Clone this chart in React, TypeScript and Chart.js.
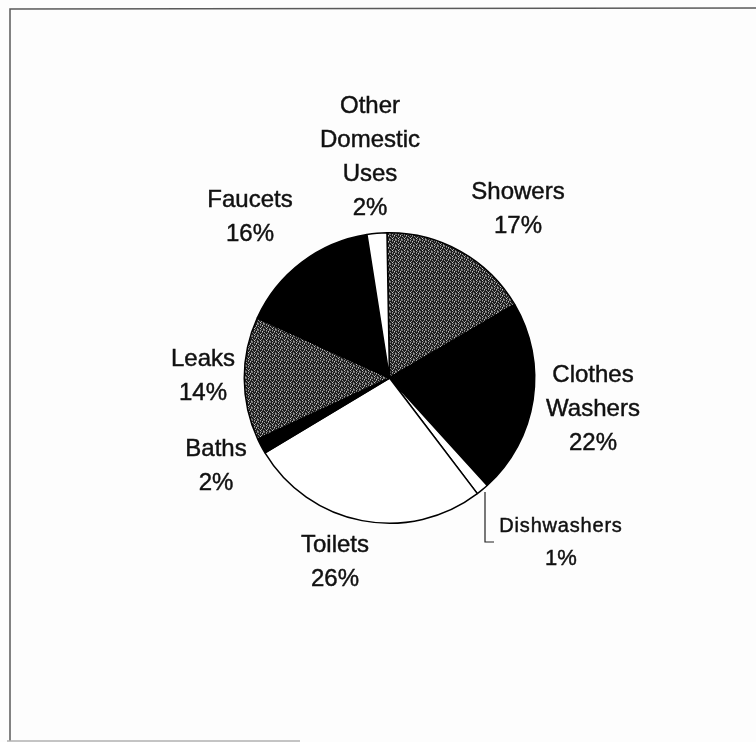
import React, { useEffect, useRef } from "react";
import { Chart, registerables } from "chart.js";

Chart.register(...registerables);

const categories = [
  "Showers",
  "Clothes Washers",
  "Dishwashers",
  "Toilets",
  "Baths",
  "Leaks",
  "Faucets",
  "Other Domestic Uses",
];
const values = [16.8, 21.7, 1.4, 26.7, 1.7, 13.7, 15.7, 2.2];
const percentLabels = ["17%", "22%", "1%", "26%", "2%", "14%", "16%", "2%"];
const labelLines = [
  ["Showers"],
  ["Clothes", "Washers"],
  ["Dishwashers"],
  ["Toilets"],
  ["Baths"],
  ["Leaks"],
  ["Faucets"],
  ["Other", "Domestic", "Uses"],
];
// fill kind per slice: "tex" = dark stippled grey, "black", "white"
const fills = ["tex", "black", "white", "white", "black", "tex", "black", "white"];
// label anchor (centre x, first baseline y) in pixels
const labelPos: [number, number][] = [
  [518, 199],
  [593, 382],
  [561, 532],
  [335, 552],
  [216, 456],
  [203, 366],
  [250, 207],
  [370, 113],
];

function makeTexture(): CanvasPattern | string {
  const c = document.createElement("canvas");
  c.width = 6;
  c.height = 6;
  const g = c.getContext("2d");
  if (!g) return "#444";
  g.fillStyle = "#1c1c1c";
  g.fillRect(0, 0, 6, 6);
  const map = [
    "a.b..a",
    "..a.c.",
    "b...a.",
    ".a.b..",
    "..c..a",
    "a..a.b",
  ];
  for (let y = 0; y < 6; y++) {
    for (let x = 0; x < 6; x++) {
      const ch = map[y][x];
      if (ch === "a") g.fillStyle = "#707070";
      else if (ch === "b") g.fillStyle = "#a0a0a0";
      else if (ch === "c") g.fillStyle = "#c8c8c8";
      else continue;
      g.fillRect(x, y, 1, 1);
    }
  }
  const ctx2 = document.createElement("canvas").getContext("2d");
  return ctx2?.createPattern(c, "repeat") || "#444";
}

export default function App() {
  const ref = useRef<HTMLCanvasElement>(null);
  useEffect(() => {
    if (!ref.current) return;
    const tex = makeTexture();
    const bg = fills.map((f) => (f === "tex" ? tex : f === "black" ? "#000000" : "#ffffff"));

    const decor = {
      id: "decor",
      beforeDraw(chart: any) {
        const ctx = chart.ctx;
        ctx.save();
        ctx.fillStyle = "#fdfdfd";
        ctx.fillRect(0, 0, chart.width, chart.height);
        // frame
        ctx.strokeStyle = "#5a5a5a";
        ctx.lineWidth = 1.5;
        ctx.beginPath();
        ctx.moveTo(10, 741);
        ctx.lineTo(10, 9);
        ctx.lineTo(756, 8);
        ctx.stroke();
        ctx.strokeStyle = "#b0b0b0";
        ctx.beginPath();
        ctx.moveTo(7, 741);
        ctx.lineTo(300, 741);
        ctx.stroke();
        ctx.restore();
      },
      afterDraw(chart: any) {
        const ctx = chart.ctx;
        ctx.save();
        ctx.fillStyle = "#111111";
        ctx.strokeStyle = "#111111";
        ctx.lineWidth = 0.45;
        ctx.textAlign = "center";
        ctx.textBaseline = "alphabetic";
        labelPos.forEach(([x, y], i) => {
          const small = i === 2;
          const lines = [...labelLines[i], percentLabels[i]];
          const lh = small ? 33 : 34;
          lines.forEach((t, k) => {
            let size = 24;
            let ls = "0px";
            if (small) {
              size = k === 0 ? 20 : 22;
              ls = k === 0 ? "0.8px" : "0px";
            }
            ctx.font = `${size}px "Liberation Sans", Arial, sans-serif`;
            (ctx as any).letterSpacing = ls;
            ctx.fillText(t, x, y + k * lh);
            ctx.strokeText(t, x, y + k * lh);
          });
        });
        (ctx as any).letterSpacing = "0px";
        // leader line for Dishwashers
        ctx.strokeStyle = "#222";
        ctx.lineWidth = 1.2;
        ctx.beginPath();
        ctx.moveTo(485, 492);
        ctx.lineTo(485, 542);
        ctx.lineTo(494, 542);
        ctx.stroke();
        ctx.restore();
      },
    };

    const chart = new Chart(ref.current, {
      type: "pie",
      data: {
        labels: categories,
        datasets: [
          {
            data: values,
            backgroundColor: bg as any,
            borderColor: "#000000",
            borderWidth: 1.5,
          },
        ],
      },
      options: {
        responsive: false,
        animation: false,
        rotation: -1,
        layout: { padding: { left: 243.5, right: 220.5, top: 232, bottom: 218 } },
        plugins: { legend: { display: false }, tooltip: { enabled: false } },
        events: [],
      },
      plugins: [decor],
    });
    return () => chart.destroy();
  }, []);

  return (
    <div style={{ position: "absolute", left: 0, top: 0, width: 756, height: 742 }}>
      <canvas ref={ref} width={756} height={742} style={{ display: "block" }} />
    </div>
  );
}
